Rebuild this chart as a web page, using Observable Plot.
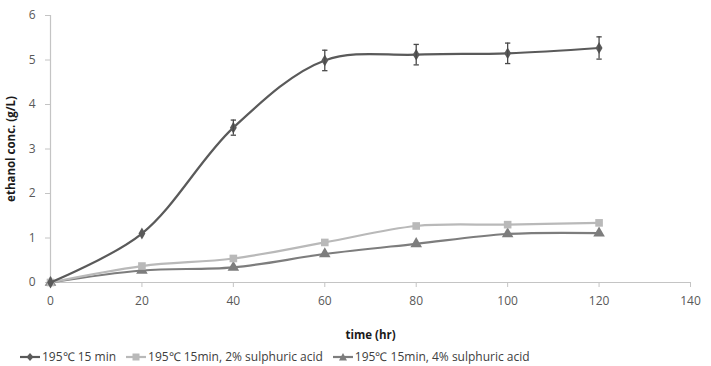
<!DOCTYPE html>
<html>
<head>
<meta charset="utf-8">
<script src="https://cdn.jsdelivr.net/npm/d3@7"></script>
<script src="https://cdn.jsdelivr.net/npm/@observablehq/plot@0.6"></script>
<style>
  html, body { margin: 0; padding: 0; background: #fff; overflow: hidden; width: 711px; height: 366px; }
  #chart { position: absolute; left: 0; top: 0; }
  #legend { position: absolute; left: 20px; top: 349px; height: 16px; line-height: 16px; font-family: "Open Sans", sans-serif; font-size: 12px; color: #404040; white-space: nowrap; display: flex; align-items: center; }
  .item { display: inline-flex; align-items: center; margin-right: 10px; }
  .item svg { margin-right: 2px; }
</style>
</head>
<body>
<div id="chart"></div>
<div id="legend"></div>
<script>
const times = [0, 20, 40, 60, 80, 100, 120];
const seriesNames = ["195℃ 15 min", "195℃ 15min, 2% sulphuric acid", "195℃ 15min, 4% sulphuric acid"];
const s1 = [0, 1.10, 3.48, 4.99, 5.12, 5.15, 5.27];
const s1err = [0, 0.03, 0.17, 0.23, 0.23, 0.23, 0.25];
const s2 = [0, 0.37, 0.54, 0.90, 1.27, 1.30, 1.34];
const s3 = [0, 0.27, 0.34, 0.64, 0.87, 1.09, 1.11];
const xTicks = [0, 20, 40, 60, 80, 100, 120, 140];
const yTicks = [0, 1, 2, 3, 4, 5, 6];

const colors = ["#5a5a5a", "#b9b9b9", "#7d7d7d"];
const symbols = ["diamond", "square", "triangle"];
const allValues = [s1, s2, s3];

const rows = [];
allValues.forEach((vals, si) => vals.forEach((v, i) => rows.push({series: seriesNames[si], t: times[i], v, si})));
const errRows = times.map((t, i) => ({t, lo: s1[i] - s1err[i], hi: s1[i] + s1err[i]})).filter((d, i) => s1err[i] > 0.05);

const capSymbol = { draw(ctx, size) { const w = Math.sqrt(size) / 2; ctx.moveTo(-w, 0); ctx.lineTo(w, 0); } };

const marks = [
  Plot.ruleY([0], {stroke: "#c4c4c4", strokeWidth: 1.2}),
  Plot.ruleX([0], {stroke: "#c4c4c4", strokeWidth: 1.2}),
];
[2, 1, 0].forEach(si => {
  const data = rows.filter(d => d.si === si);
  marks.push(Plot.line(data, {x: "t", y: "v", stroke: colors[si], strokeWidth: 2.2, curve: "catmull-rom"}));
  marks.push(Plot.dot(data, {x: "t", y: "v", symbol: () => symbols[si], fill: colors[si], stroke: "none", r: si === 0 ? 3.6 : 4.3}));
});
marks.push(Plot.ruleX(errRows, {x: "t", y1: "lo", y2: "hi", stroke: "#4a4a4a", strokeWidth: 1.3}));
marks.push(Plot.dot(errRows, {x: "t", y: "lo", symbol: capSymbol, r: 3, stroke: "#4a4a4a", strokeWidth: 1.3}));
marks.push(Plot.dot(errRows, {x: "t", y: "hi", symbol: capSymbol, r: 3, stroke: "#4a4a4a", strokeWidth: 1.3}));

const chart = Plot.plot({
  width: 711,
  height: 348,
  marginLeft: 50,
  marginRight: 21,
  marginTop: 15,
  marginBottom: 66,
  style: {fontFamily: "'Open Sans', sans-serif", fontSize: "12px", color: "#595959", background: "#fff"},
  x: {domain: [0, 140], ticks: xTicks, tickSize: 5, tickPadding: 9, label: "time (hr)", labelArrow: "none", labelAnchor: "center", labelOffset: 56, tickFormat: d => String(d)},
  y: {domain: [0, 6], ticks: yTicks, tickSize: 5, tickPadding: 10, label: "ethanol conc. (g/L)", labelArrow: "none", labelAnchor: "center", labelOffset: 44, tickFormat: d => String(d)},
  marks
});
chart.querySelectorAll('[aria-label="x-axis tick"], [aria-label="y-axis tick"]').forEach(g => g.setAttribute("stroke", "#c4c4c4"));
chart.querySelectorAll('[aria-label="x-axis label"], [aria-label="y-axis label"]').forEach(g => { g.setAttribute("font-weight", "bold"); g.setAttribute("fill", "#1a1a1a"); g.setAttribute("font-size", "11.5px"); });
// strip any arrow characters if the Plot version adds them
chart.querySelectorAll('[aria-label="x-axis label"] text, [aria-label="y-axis label"] text').forEach(t => { t.textContent = t.textContent.replace(/\s*[←→↑↓]\s*/g, ""); });
document.getElementById("chart").appendChild(chart);

const legend = document.getElementById("legend");
const symPaths = {
  diamond: "M10,4 L13.5,8 L10,12 L6.5,8 Z",
  square: "M6.5,4.5 L13.5,4.5 L13.5,11.5 L6.5,11.5 Z",
  triangle: "M10,4 L14,11.5 L6,11.5 Z"
};
seriesNames.forEach((name, si) => {
  const item = document.createElement("span");
  item.className = "item";
  item.innerHTML = `<svg width="20" height="16"><line x1="0" y1="8" x2="20" y2="8" stroke="${colors[si]}" stroke-width="2.2"/><path d="${symPaths[symbols[si]]}" fill="${colors[si]}"/></svg><span>${name}</span>`;
  legend.appendChild(item);
});
</script>
</body>
</html>
